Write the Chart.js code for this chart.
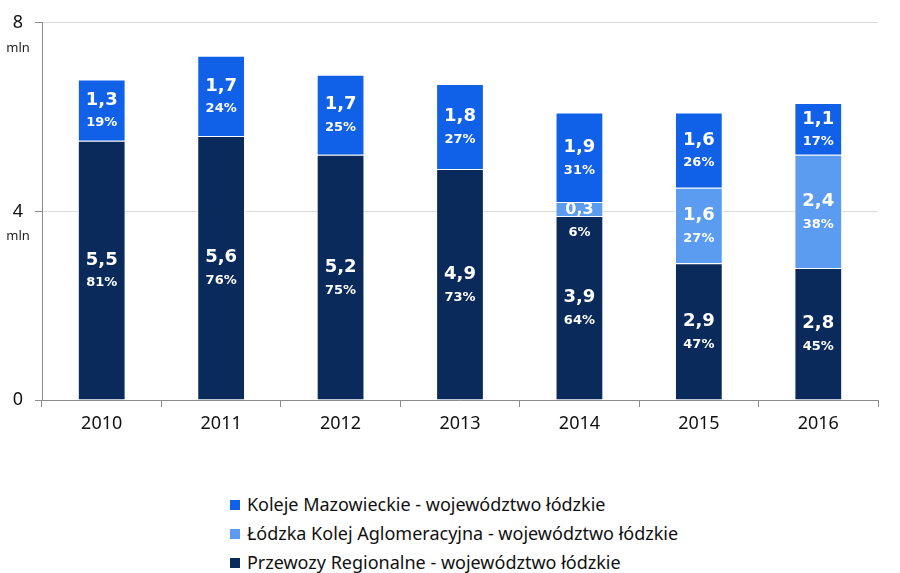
<!DOCTYPE html>
<html lang="pl">
<head>
<meta charset="utf-8">
<title>Przewozy pasażerskie - województwo łódzkie</title>
<script src="https://cdn.jsdelivr.net/npm/chart.js@4.4.1/dist/chart.umd.min.js"></script>
<style>
    body { margin: 0; background: #fff; }
    #wrap { position: relative; width: 900px; height: 573px; }
    #box { position: absolute; left: 0; top: 0; width: 900px; height: 480px; }
    #legend { position: absolute; left: 0; top: 490px; width: 900px; text-align: center; }
    #legend ul { display: inline-block; text-align: left; list-style: none; margin: 0; padding: 0 0 0 8px; }
    #legend li { font: 18px "Noto Sans", sans-serif; color: #111; line-height: 29px; height: 29px; white-space: nowrap; }
    #legend span.sw { display: inline-block; width: 10px; height: 10px; margin-right: 7px; vertical-align: 1px; }
</style>
</head>
<body>
<div id="wrap">
    <div id="box"><canvas id="chart"></canvas></div>
    <div id="legend"></div>
</div>
<script>
// Data (mln passengers)
const years = ['2010', '2011', '2012', '2013', '2014', '2015', '2016'];
const przewozy = [5.5, 5.6, 5.2, 4.9, 3.9, 2.9, 2.8];
const lka = [null, null, null, null, 0.3, 1.6, 2.4];
const koleje = [1.3, 1.7, 1.7, 1.8, 1.9, 1.6, 1.1];

// shares shown under the values
const przewozyPct = [81, 76, 75, 73, 64, 47, 45];
const lkaPct = [null, null, null, null, 6, 27, 38];
const kolejePct = [19, 24, 25, 27, 31, 26, 17];

const yTicks = [0, 4, 8];
const unit = 'mln';

const colors = {
    przewozy: '#0b2a5c',
    lka: '#5c9cf0',
    koleje: '#1060e8'
};

// draws value + share inside every segment
const segmentLabels = {
    id: 'segmentLabels',
    afterDatasetsDraw(chart) {
        const ctx = chart.ctx;
        ctx.save();
        ctx.fillStyle = '#fff';
        ctx.textAlign = 'center';
        ctx.textBaseline = 'middle';
        chart.data.datasets.forEach((ds, i) => {
            const meta = chart.getDatasetMeta(i);
            meta.data.forEach((bar, j) => {
                const v = ds.data[j];
                if (v == null) return;
                const pct = ds.pct[j];
                const mid = (bar.y + bar.base) / 2;
                const h = bar.base - bar.y;
                const txt = v.toFixed(1).replace('.', ',');
                if (h < 30) {
                    ctx.font = 'bold 16px "DejaVu Sans", Verdana, sans-serif';
                    ctx.fillText(txt, bar.x, mid + 1);
                    ctx.font = 'bold 13px "DejaVu Sans", Verdana, sans-serif';
                    ctx.fillText(pct + '%', bar.x, bar.base + 17);
                } else {
                    ctx.font = 'bold 18px "DejaVu Sans", Verdana, sans-serif';
                    ctx.fillText(txt, bar.x, mid - 10);
                    ctx.font = 'bold 13px "DejaVu Sans", Verdana, sans-serif';
                    ctx.fillText(pct + '%', bar.x, mid + 13);
                }
            });
        });
        ctx.restore();
    }
};

// "mln" under the 4 and 8 tick labels
const unitLabels = {
    id: 'unitLabels',
    afterDraw(chart) {
        const ctx = chart.ctx;
        const y = chart.scales.y;
        ctx.save();
        ctx.fillStyle = '#222';
        ctx.font = '13px "Noto Sans", sans-serif';
        ctx.textAlign = 'center';
        ctx.textBaseline = 'middle';
        yTicks.forEach(t => {
            if (t === 0) return;
            ctx.fillText(unit, chart.chartArea.left - 24, y.getPixelForValue(t) + 25);
        });
        ctx.restore();
    }
};

const chart = new Chart(document.getElementById('chart').getContext('2d'), {
    type: 'bar',
    data: {
        labels: years,
        datasets: [
            {
                label: 'Przewozy Regionalne - województwo łódzkie',
                data: przewozy,
                pct: przewozyPct,
                backgroundColor: colors.przewozy
            },
            {
                label: 'Łódzka Kolej Aglomeracyjna - województwo łódzkie',
                data: lka,
                pct: lkaPct,
                backgroundColor: colors.lka
            },
            {
                label: 'Koleje Mazowieckie - województwo łódzkie',
                data: koleje,
                pct: kolejePct,
                backgroundColor: colors.koleje
            }
        ]
    },
    options: {
        responsive: true,
        maintainAspectRatio: false,
        animation: false,
        datasets: {
            bar: {
                categoryPercentage: 1,
                barPercentage: 0.4,
                borderColor: '#fff',
                borderWidth: 1,
                borderSkipped: 'bottom'
            }
        },
        layout: { padding: { top: 20, right: 22, bottom: 40, left: 8 } },
        plugins: {
            legend: { display: false },
            tooltip: { enabled: false }
        },
        scales: {
            x: {
                stacked: true,
                grid: { drawOnChartArea: false, tickLength: 7, tickColor: '#8c8c8c', offset: true },
                border: { color: '#8c8c8c' },
                ticks: {
                    color: '#111',
                    font: { family: '"Noto Sans", sans-serif', size: 18 },
                    padding: 6
                },
                afterFit: (s) => { s.height = 40; }
            },
            y: {
                stacked: true,
                min: 0,
                max: 8,
                afterBuildTicks: (s) => { s.ticks = yTicks.map(v => ({ value: v })); },
                grid: { color: '#dcdcdc', tickLength: 7, tickColor: '#8c8c8c' },
                border: { color: '#8c8c8c' },
                ticks: {
                    color: '#111',
                    font: { family: '"Noto Sans", sans-serif', size: 18 },
                    padding: 12
                },
                afterFit: (s) => { s.width = 34; }
            }
        }
    },
    plugins: [segmentLabels, unitLabels]
});

// legend: top stack segment first
const ul = document.createElement('ul');
chart.data.datasets.slice().reverse().forEach(ds => {
    const li = document.createElement('li');
    const sw = document.createElement('span');
    sw.className = 'sw';
    sw.style.background = ds.backgroundColor;
    li.appendChild(sw);
    li.appendChild(document.createTextNode(ds.label));
    ul.appendChild(li);
});
document.getElementById('legend').appendChild(ul);
</script>
</body>
</html>
